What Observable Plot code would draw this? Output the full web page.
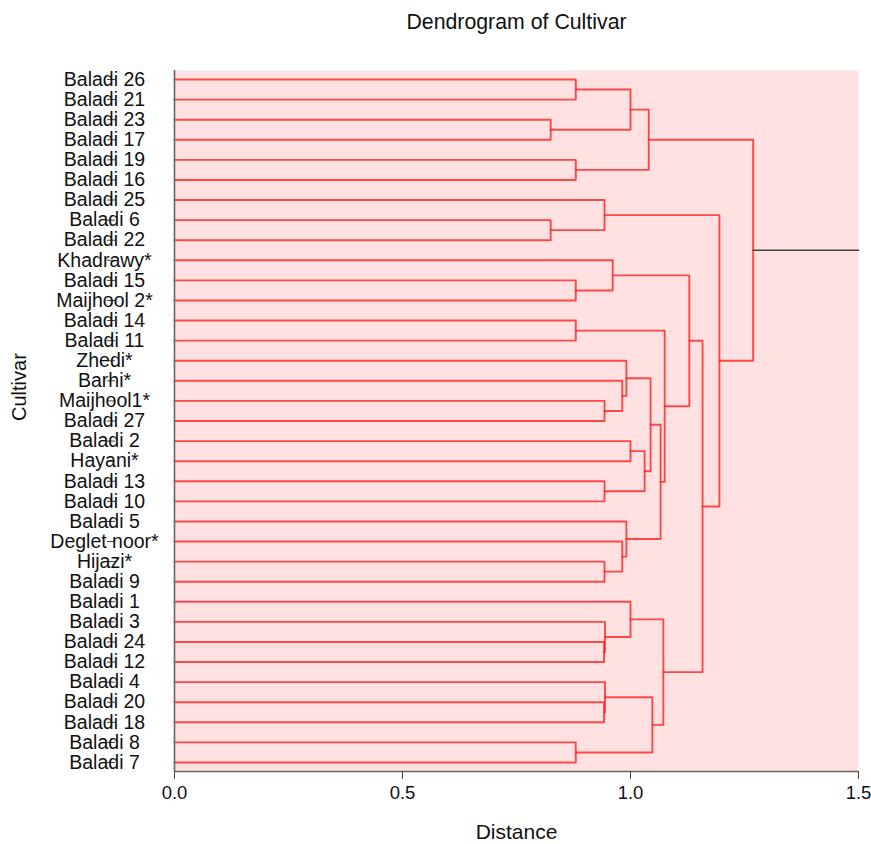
<!DOCTYPE html>
<html><head><meta charset="utf-8">
<script src="https://cdn.jsdelivr.net/npm/d3@7"></script>
<script src="https://cdn.jsdelivr.net/npm/@observablehq/plot@0.6"></script>
<style>
body{margin:0;background:#fff;font-family:"Liberation Sans",Arial,sans-serif;}
#title{height:44px;line-height:44px;width:685px;margin-left:174px;text-align:center;font-size:21.3px;color:#111;}
#chart svg{display:block;}
</style></head><body>
<div id="title">Dendrogram of Cultivar</div>
<div id="chart"></div>
<script>
// Leaf order, top to bottom
const leaves = ["Baladi 26","Baladi 21","Baladi 23","Baladi 17","Baladi 19","Baladi 16","Baladi 25","Baladi 6","Baladi 22",
  "Khadrawy*","Baladi 15","Maijhool 2*","Baladi 14","Baladi 11","Zhedi*","Barhi*","Maijhool1*","Baladi 27","Baladi 2",
  "Hayani*","Baladi 13","Baladi 10","Baladi 5","Deglet noor*","Hijazi*","Baladi 9","Baladi 1","Baladi 3","Baladi 24",
  "Baladi 12","Baladi 4","Baladi 20","Baladi 18","Baladi 8","Baladi 7"];
// Merges: children are leaf names or "#k" (k-th merge, 1-based)
const mergeA = ["Baladi 26","Baladi 23","#1","Baladi 19","#3","Baladi 6","Baladi 25","Baladi 15","Khadrawy*","Baladi 14",
  "Maijhool1*","Barhi*","Zhedi*","Baladi 2","Baladi 13","#14","#13","Hijazi*","Deglet noor*","Baladi 5","#17","#10","#9",
  "Baladi 24","Baladi 3","Baladi 1","Baladi 20","Baladi 4","Baladi 8","#28","#26","#23","#7","#5"];
const mergeB = ["Baladi 21","Baladi 17","#2","Baladi 16","#4","Baladi 22","#6","Maijhool 2*","#8","Baladi 11",
  "Baladi 27","#11","#12","Hayani*","Baladi 10","#15","#16","Baladi 9","#18","#19","#20","#21","#22",
  "Baladi 12","#24","#25","Baladi 18","#27","Baladi 7","#29","#30","#31","#32","#33"];
const mergeHeight = [0.88,0.825,1.0,0.88,1.04,0.825,0.943,0.88,0.961,0.88,
  0.943,0.982,0.991,1.0,0.943,1.031,1.044,0.943,0.982,0.991,1.066,1.075,1.129,
  0.942,0.944,1.0,0.942,0.944,0.88,1.048,1.072,1.158,1.195,1.269];
const xTicks = [0, 0.5, 1.0, 1.5];
const xMax = 1.5;

// Build dendrogram paths from the linkage
const pos = new Map();
leaves.forEach((name, i) => pos.set(name, {x: 0, y: i}));
const paths = [];
mergeHeight.forEach((h, k) => {
  const a = pos.get(mergeA[k]), b = pos.get(mergeB[k]);
  const id = "#" + (k + 1);
  paths.push({id, x: a.x, y: a.y}, {id, x: h, y: a.y}, {id, x: h, y: b.y}, {id, x: b.x, y: b.y});
  pos.set(id, {x: h, y: (a.y + b.y) / 2});
});
const root = pos.get("#" + mergeHeight.length);
const pad = 0.448;
const yDomain = [-pad, leaves.length - 1 + pad];

const chart = Plot.plot({
  width: 871, height: 800,
  marginTop: 26, marginBottom: 73, marginLeft: 174, marginRight: 13,
  style: {fontFamily: "'Liberation Sans', Arial, sans-serif", fontSize: "19.5px", color: "#111", background: "#fff", overflow: "visible"},
  x: {domain: [0, xMax]},
  y: {domain: yDomain, reverse: true},
  marks: [
    Plot.frame({fill: "#ffe1e1", stroke: null}),
    Plot.line(paths, {x: "x", y: "y", z: "id", stroke: "#ff2020", strokeWidth: 1.9, strokeOpacity: 0.8}),
    Plot.line([{x: root.x, y: root.y}, {x: xMax, y: root.y}], {x: "x", y: "y", stroke: "#444", strokeWidth: 1.7}),
    Plot.ruleX([0], {stroke: "#666", strokeWidth: 1.6}),
    Plot.ruleY([yDomain[1]], {stroke: "#666", strokeWidth: 1.6}),
    Plot.axisY(d3.range(leaves.length), {tickFormat: i => leaves[i], tickSize: 8, tickPadding: 3, textAnchor: "middle", dx: -59, label: null, stroke: "#444", fill: "#111"}),
    Plot.axisX(xTicks, {tickFormat: d3.format(".1f"), tickSize: 8, tickPadding: 6, label: null, stroke: "#444", fill: "#111", fontSize: 18.5}),
    Plot.text(["Cultivar"], {frameAnchor: "left", rotate: -90, dx: -155, fontSize: 20, fill: "#111"}),
    Plot.text(["Distance"], {frameAnchor: "bottom", dy: 61, lineAnchor: "middle", fontSize: 21, fill: "#111"})
  ]
});
document.getElementById("chart").appendChild(chart);
</script>
</body></html>
